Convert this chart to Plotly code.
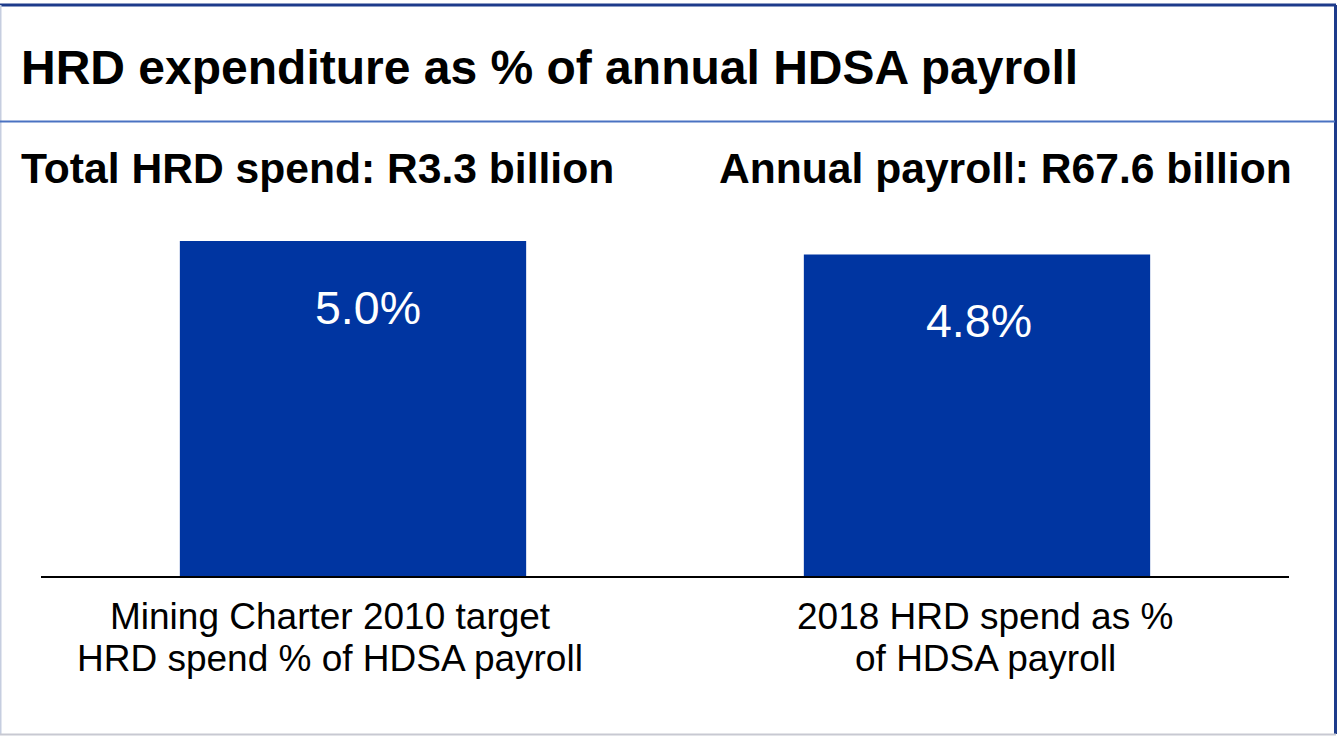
import plotly.graph_objects as go

# Chart content
categories = ["Mining Charter 2010 target", "2018 HRD spend as %"]
category_lines = [
    ["Mining Charter 2010 target", "HRD spend % of HDSA payroll"],
    ["2018 HRD spend as %", "of HDSA payroll"],
]
values = [5.0, 4.8]
title_text = "HRD expenditure as % of annual HDSA payroll"
subtitles = ["Total HRD spend: R3.3 billion", "Annual payroll: R67.6 billion"]

W, H = 1337, 736
FONT = "Liberation Sans, Arial, sans-serif"
BAR_COLOR = "#0035a1"


def px_x(p):
    return p / W


def px_y(p):
    return (H - p) / H


fig = go.Figure(
    go.Bar(
        x=categories,
        y=values,
        marker=dict(color=BAR_COLOR, line=dict(width=0)),
        width=0.555,
        hoverinfo="skip",
    )
)

annotations = []

# Value labels inside the bars
value_shift = [15, 2]
for cat, v, dx in zip(categories, values, value_shift):
    annotations.append(dict(
        x=cat, y=v, xref="x", yref="y", text=f"{v:.1f}%",
        showarrow=False, yanchor="middle", yshift=-67, xshift=dx,
        font=dict(family=FONT, size=46.5, color="white"),
    ))

# Category labels beneath the baseline
label_shift = [-23, 8]
for cat, lines, dx in zip(categories, category_lines, label_shift):
    for i, line in enumerate(lines):
        annotations.append(dict(
            x=cat, y=px_y(616 + 42 * i), xref="x", yref="paper", text=line,
            showarrow=False, xanchor="center", yanchor="middle", xshift=dx,
            font=dict(family=FONT, size=37, color="black"),
        ))

# Title and subtitles
annotations.append(dict(
    x=px_x(19), y=px_y(68), xref="paper", yref="paper", text=f"<b>{title_text}</b>",
    showarrow=False, xanchor="left", yanchor="middle",
    font=dict(family=FONT, size=48, color="black"),
))
for sx, s in zip([19, 717], subtitles):
    annotations.append(dict(
        x=px_x(sx), y=px_y(168), xref="paper", yref="paper", text=f"<b>{s}</b>",
        showarrow=False, xanchor="left", yanchor="middle",
        font=dict(family=FONT, size=42.6, color="black"),
    ))

# Frame lines
shapes = [
    dict(type="line", xref="paper", yref="paper", x0=0, x1=px_x(1336), y0=px_y(5), y1=px_y(5),
         line=dict(color="#1d3b8b", width=3)),
    dict(type="line", xref="paper", yref="paper", x0=px_x(1335.5), x1=px_x(1335.5), y0=px_y(734), y1=px_y(5),
         line=dict(color="#1d3b8b", width=3)),
    dict(type="line", xref="paper", yref="paper", x0=px_x(0.5), x1=px_x(0.5), y0=px_y(734), y1=px_y(5),
         line=dict(color="#c6cee0", width=2)),
    dict(type="line", xref="paper", yref="paper", x0=0, x1=px_x(1336), y0=px_y(734.5), y1=px_y(734.5),
         line=dict(color="#c8c9d2", width=2)),
    dict(type="line", xref="paper", yref="paper", x0=0, x1=px_x(1335), y0=px_y(121.5), y1=px_y(121.5),
         line=dict(color="#4a72c2", width=2)),
]

base_px = 576
unit_px = (576 - 241) / 5.0
y_max = 5.5
top_px = base_px - y_max * unit_px

fig.update_layout(
    width=W, height=H,
    margin=dict(l=0, r=0, t=0, b=0),
    paper_bgcolor="white", plot_bgcolor="white",
    showlegend=False,
    xaxis=dict(
        domain=[px_x(41), px_x(1289)], range=[-0.5, 1.5],
        showline=True, linecolor="black", linewidth=2,
        showticklabels=False, ticks="", showgrid=False, zeroline=False,
        fixedrange=True,
    ),
    yaxis=dict(
        domain=[px_y(base_px), px_y(top_px)], range=[0, y_max],
        visible=False, showgrid=False, zeroline=False, fixedrange=True,
    ),
    annotations=annotations,
    shapes=shapes,
)

fig.write_html("out.html")
